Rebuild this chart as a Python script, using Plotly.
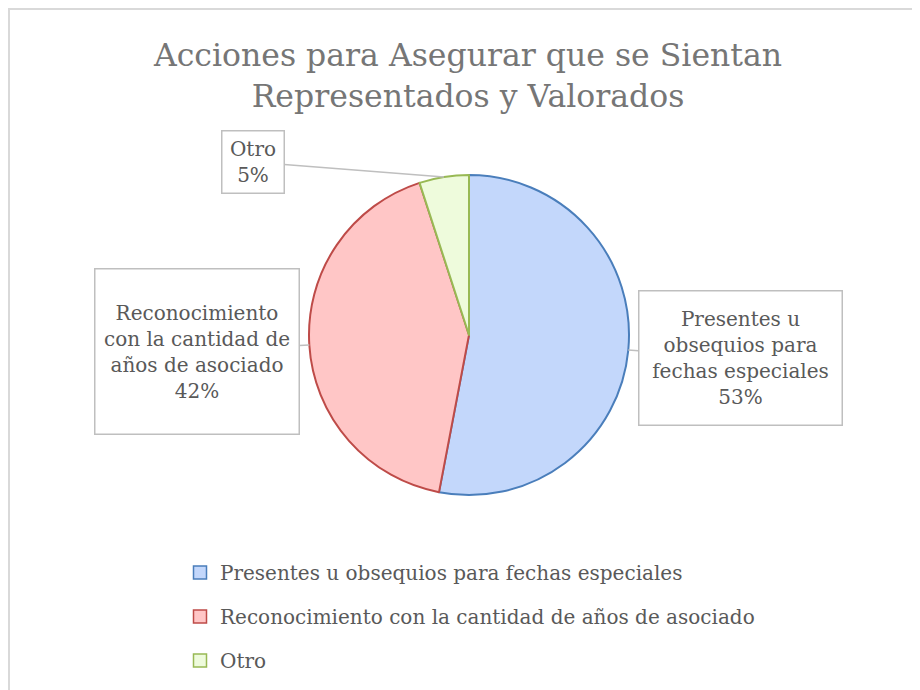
import math
import plotly.graph_objects as go

# ---- data ----
categories = [
    "Presentes u obsequios para fechas especiales",
    "Reconocimiento con la cantidad de años de asociado",
    "Otro",
]
label_texts = [
    "Presentes u<br>obsequios para<br>fechas especiales",
    "Reconocimiento<br>con la cantidad de<br>años de asociado",
    "Otro",
]
values = [53, 42, 5]
title_text = "Acciones para Asegurar que se Sientan<br>Representados y Valorados"

# ---- styles ----
W, H = 920, 690
OFF = 8  # page body margin
FONT = "DejaVu Serif"
fill_colors = ["#c3d7fb", "#ffc6c6", "#eefbdc"]
line_colors = ["#4a7ebb", "#be4b48", "#98b954"]
text_color = "#595959"


def px(x):
    return (x - OFF) / W


def py(y):
    return 1 - (y - OFF) / H


# pie geometry in (screen) pixels
cx, cy, r = 469, 335, 160
# label box centers (pixels) and inner sizes
box_centers = [(740, 358), (197, 351), (253, 162)]
box_sizes = [(194, 125), (195, 156), (53, 53)]

fig = go.Figure()
fig.add_trace(go.Pie(
    labels=categories,
    values=values,
    sort=False,
    direction="clockwise",
    rotation=0,
    textinfo="none",
    hoverinfo="label+percent",
    marker=dict(colors=fill_colors, line=dict(color=line_colors, width=2)),
    domain=dict(x=[px(cx - r), px(cx + r)], y=[py(cy + r), py(cy - r)]),
    showlegend=False,
))

# legend entries (one per category, separate groups for spacing)
for i, cat in enumerate(categories):
    fig.add_trace(go.Scatter(
        x=[None], y=[None], mode="markers", name=cat,
        legendgroup=f"g{i}",
        marker=dict(symbol="square", size=13, color=fill_colors[i],
                    line=dict(color=line_colors[i], width=1.5)),
        hoverinfo="skip",
    ))

total = sum(values)
cum = 0
annotations = []
for i, v in enumerate(values):
    frac_mid = (cum + v / 2) / total
    cum += v
    ang = 2 * math.pi * frac_mid
    tx = cx + r * math.sin(ang)
    ty = cy - r * math.cos(ang)
    pct = round(100 * v / total)
    bx, by = box_centers[i]
    bw, bh = box_sizes[i]
    annotations.append(dict(
        x=px(tx), y=py(ty), xref="paper", yref="paper",
        text=f"{label_texts[i]}<br>{pct}%",
        showarrow=True, arrowhead=0, arrowwidth=1.5, arrowcolor="#bfbfbf",
        ax=bx - tx, ay=by - ty,
        width=bw, height=bh, borderpad=4,
        bordercolor="#bfbfbf", borderwidth=1.5, bgcolor="white",
        font=dict(family=FONT, size=20, color=text_color),
        align="center", valign="middle",
    ))

fig.update_layout(
    width=W, height=H,
    margin=dict(l=0, r=0, t=0, b=0),
    paper_bgcolor="white", plot_bgcolor="white",
    title=dict(text=title_text, x=px(468), xanchor="center",
               y=py(66), yanchor="top",
               font=dict(family=FONT, size=31.5, color="#767676")),
    xaxis=dict(visible=False), yaxis=dict(visible=False),
    legend=dict(x=px(180), y=py(553), xanchor="left", yanchor="top",
                traceorder="grouped", tracegroupgap=15,
                font=dict(family=FONT, size=20, color=text_color),
                bgcolor="rgba(0,0,0,0)"),
    annotations=annotations,
    shapes=[dict(type="rect", xref="paper", yref="paper",
                 x0=px(9), x1=1.05, y0=-0.05, y1=py(9),
                 line=dict(color="#d9d9d9", width=2), layer="below")],
)

fig.write_html("out.html")
